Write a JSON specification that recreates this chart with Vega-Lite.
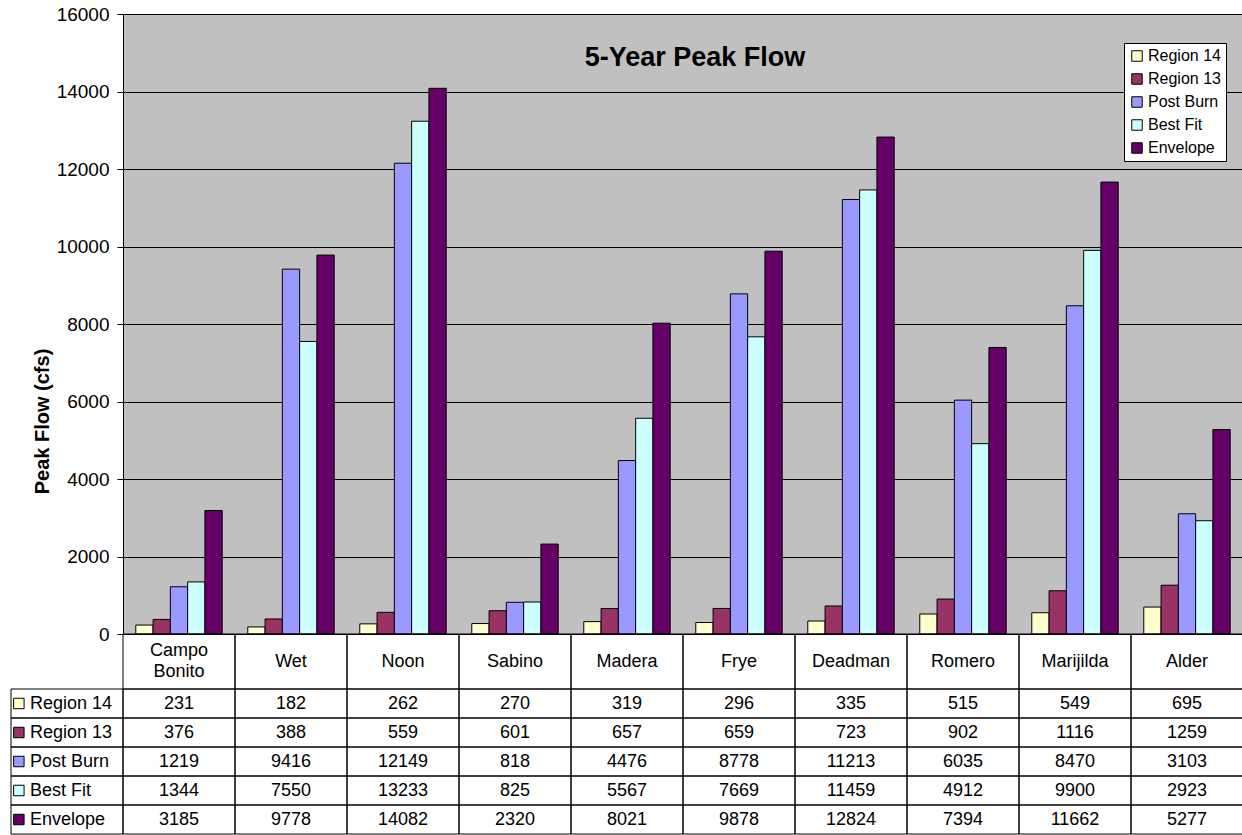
{
  "$schema": "https://vega.github.io/schema/vega-lite/v6.json",
  "background": "white",
  "padding": {"left": 10, "top": 5, "right": 0, "bottom": 0},
  "spacing": 0,
  "bounds": "flush",
  "config": {
    "font": "Liberation Sans",
    "view": {"stroke": null},
    "axis": {"labelFont": "Liberation Sans", "titleFont": "Liberation Sans"},
    "legend": {"labelFont": "Liberation Sans"},
    "title": {"font": "Liberation Sans"}
  },
  "datasets": {
    "sites": [
      {"site": "Campo Bonito"}, {"site": "Wet"}, {"site": "Noon"}, {"site": "Sabino"}, {"site": "Madera"},
      {"site": "Frye"}, {"site": "Deadman"}, {"site": "Romero"}, {"site": "Marijilda"}, {"site": "Alder"}
    ],
    "series": [
      {"series": "Region 14"}, {"series": "Region 13"}, {"series": "Post Burn"}, {"series": "Best Fit"}, {"series": "Envelope"}
    ],
    "flow": [
      {"site": "Campo Bonito", "series": "Region 14", "cfs": 231},
      {"site": "Wet", "series": "Region 14", "cfs": 182},
      {"site": "Noon", "series": "Region 14", "cfs": 262},
      {"site": "Sabino", "series": "Region 14", "cfs": 270},
      {"site": "Madera", "series": "Region 14", "cfs": 319},
      {"site": "Frye", "series": "Region 14", "cfs": 296},
      {"site": "Deadman", "series": "Region 14", "cfs": 335},
      {"site": "Romero", "series": "Region 14", "cfs": 515},
      {"site": "Marijilda", "series": "Region 14", "cfs": 549},
      {"site": "Alder", "series": "Region 14", "cfs": 695},
      {"site": "Campo Bonito", "series": "Region 13", "cfs": 376},
      {"site": "Wet", "series": "Region 13", "cfs": 388},
      {"site": "Noon", "series": "Region 13", "cfs": 559},
      {"site": "Sabino", "series": "Region 13", "cfs": 601},
      {"site": "Madera", "series": "Region 13", "cfs": 657},
      {"site": "Frye", "series": "Region 13", "cfs": 659},
      {"site": "Deadman", "series": "Region 13", "cfs": 723},
      {"site": "Romero", "series": "Region 13", "cfs": 902},
      {"site": "Marijilda", "series": "Region 13", "cfs": 1116},
      {"site": "Alder", "series": "Region 13", "cfs": 1259},
      {"site": "Campo Bonito", "series": "Post Burn", "cfs": 1219},
      {"site": "Wet", "series": "Post Burn", "cfs": 9416},
      {"site": "Noon", "series": "Post Burn", "cfs": 12149},
      {"site": "Sabino", "series": "Post Burn", "cfs": 818},
      {"site": "Madera", "series": "Post Burn", "cfs": 4476},
      {"site": "Frye", "series": "Post Burn", "cfs": 8778},
      {"site": "Deadman", "series": "Post Burn", "cfs": 11213},
      {"site": "Romero", "series": "Post Burn", "cfs": 6035},
      {"site": "Marijilda", "series": "Post Burn", "cfs": 8470},
      {"site": "Alder", "series": "Post Burn", "cfs": 3103},
      {"site": "Campo Bonito", "series": "Best Fit", "cfs": 1344},
      {"site": "Wet", "series": "Best Fit", "cfs": 7550},
      {"site": "Noon", "series": "Best Fit", "cfs": 13233},
      {"site": "Sabino", "series": "Best Fit", "cfs": 825},
      {"site": "Madera", "series": "Best Fit", "cfs": 5567},
      {"site": "Frye", "series": "Best Fit", "cfs": 7669},
      {"site": "Deadman", "series": "Best Fit", "cfs": 11459},
      {"site": "Romero", "series": "Best Fit", "cfs": 4912},
      {"site": "Marijilda", "series": "Best Fit", "cfs": 9900},
      {"site": "Alder", "series": "Best Fit", "cfs": 2923},
      {"site": "Campo Bonito", "series": "Envelope", "cfs": 3185},
      {"site": "Wet", "series": "Envelope", "cfs": 9778},
      {"site": "Noon", "series": "Envelope", "cfs": 14082},
      {"site": "Sabino", "series": "Envelope", "cfs": 2320},
      {"site": "Madera", "series": "Envelope", "cfs": 8021},
      {"site": "Frye", "series": "Envelope", "cfs": 9878},
      {"site": "Deadman", "series": "Envelope", "cfs": 12824},
      {"site": "Romero", "series": "Envelope", "cfs": 7394},
      {"site": "Marijilda", "series": "Envelope", "cfs": 11662},
      {"site": "Alder", "series": "Envelope", "cfs": 5277}
    ]
  },
  "resolve": {"scale": {"x": "independent", "y": "independent", "fill": "independent"}, "legend": {"fill": "independent"}},
  "vconcat": [
    {
      "width": 1120,
      "height": 620,
      "view": {"fill": "#C0C0C0", "stroke": null},
      "title": {"text": "5-Year Peak Flow", "fontSize": 27, "fontWeight": "bold", "color": "black", "anchor": "middle", "frame": "group", "dx": 12, "offset": -88, "baseline": "alphabetic"},
      "data": {"name": "flow"},
      "mark": {"type": "bar", "stroke": "black", "strokeWidth": 1},
      "encoding": {
        "x": {"field": "site", "type": "nominal", "sort": ["Campo Bonito", "Wet", "Noon", "Sabino", "Madera", "Frye", "Deadman", "Romero", "Marijilda", "Alder"], "scale": {"paddingInner": 0, "paddingOuter": 0}, "axis": null},
        "xOffset": {"field": "series", "type": "nominal", "sort": ["Region 14", "Region 13", "Post Burn", "Best Fit", "Envelope"], "scale": {"paddingInner": 0, "paddingOuter": 0.74}},
        "y": {"field": "cfs", "type": "quantitative", "scale": {"domain": [0, 16000], "nice": false},
          "axis": {"title": "Peak Flow (cfs)", "titleFontSize": 20, "titleFontWeight": "bold", "titleColor": "black", "titleX": -81, "titleY": 407, "titleAngle": -90, "titleAlign": "center", "titleBaseline": "middle",
            "values": [0, 2000, 4000, 6000, 8000, 10000, 12000, 14000, 16000], "format": "d", "labelFontSize": 19, "labelColor": "black", "tickColor": "black", "tickSize": 6, "labelPadding": 8, "domainColor": "black", "grid": true, "gridColor": "black", "gridWidth": 1, "gridOpacity": 1}},
        "fill": {"field": "series", "type": "nominal",
          "scale": {"domain": ["Region 14", "Region 13", "Post Burn", "Best Fit", "Envelope"], "range": ["#FFFFCC", "#993366", "#9999FF", "#CCFFFF", "#660066"]},
          "legend": {"orient": "none", "legendX": 1001, "legendY": 29, "title": null, "fillColor": "white", "strokeColor": "black", "padding": 5, "symbolType": "square", "symbolSize": 110, "symbolStrokeColor": "black", "symbolStrokeWidth": 1, "symbolOpacity": 1, "labelFontSize": 16, "labelColor": "black", "rowPadding": 7, "labelOffset": 3,
            "encode": {"symbols": {"update": {"stroke": {"value": "black"}, "strokeWidth": {"value": 1}}}}}}
      }
    },
    {
      "width": 1120,
      "height": 55,
      "data": {"name": "sites"},
      "encoding": {
        "x": {"field": "site", "type": "nominal", "scale": {"domain": ["Campo Bonito", "Wet", "Noon", "Sabino", "Madera", "Frye", "Deadman", "Romero", "Marijilda", "Alder"], "paddingInner": 0, "paddingOuter": 0}, "axis": null}
      },
      "layer": [
        {"mark": {"type": "rect", "fill": "transparent", "stroke": "black", "strokeWidth": 1}},
        {"transform": [{"filter": "indexof(datum.site, ' ') < 0"}],
          "mark": {"type": "text", "fontSize": 18, "baseline": "middle", "color": "black"}, "encoding": {"text": {"field": "site"}}},
        {"transform": [{"filter": "indexof(datum.site, ' ') >= 0"}],
          "mark": {"type": "text", "fontSize": 18, "lineBreak": " ", "baseline": "middle", "color": "black", "lineHeight": 21, "dy": -11}, "encoding": {"text": {"field": "site"}}}
      ]
    },
    {
      "width": 1120,
      "height": 145,
      "layer": [
        {
          "data": {"name": "flow"},
          "mark": {"type": "rect", "fill": "transparent", "stroke": "black", "strokeWidth": 1},
          "encoding": {
            "x": {"field": "site", "type": "nominal", "scale": {"domain": ["__legend", "Campo Bonito", "Wet", "Noon", "Sabino", "Madera", "Frye", "Deadman", "Romero", "Marijilda", "Alder"], "range": [-112, 1120], "paddingInner": 0, "paddingOuter": 0}, "axis": null},
            "y": {"field": "series", "type": "nominal", "scale": {"domain": ["Region 14", "Region 13", "Post Burn", "Best Fit", "Envelope"], "paddingInner": 0, "paddingOuter": 0}, "axis": null}
          }
        },
        {
          "data": {"name": "flow"},
          "mark": {"type": "text", "fontSize": 18, "color": "black"},
          "encoding": {
            "x": {"field": "site", "type": "nominal"},
            "y": {"field": "series", "type": "nominal"},
            "text": {"field": "cfs", "type": "quantitative", "format": "d"}
          }
        },
        {
          "data": {"name": "series"},
          "mark": {"type": "rect", "fill": "transparent", "stroke": "black", "strokeWidth": 1},
          "encoding": {
            "x": {"datum": "__legend", "type": "nominal"},
            "y": {"field": "series", "type": "nominal"}
          }
        },
        {
          "data": {"name": "series"},
          "mark": {"type": "point", "shape": "square", "filled": true, "size": 110, "stroke": "black", "strokeWidth": 1, "opacity": 1},
          "encoding": {
            "x": {"datum": "__legend", "type": "nominal", "bandPosition": 0.07},
            "y": {"field": "series", "type": "nominal"},
            "fill": {"field": "series", "type": "nominal", "scale": {"domain": ["Region 14", "Region 13", "Post Burn", "Best Fit", "Envelope"], "range": ["#FFFFCC", "#993366", "#9999FF", "#CCFFFF", "#660066"]}, "legend": null}
          }
        },
        {
          "data": {"name": "series"},
          "mark": {"type": "text", "align": "left", "fontSize": 18, "color": "black"},
          "encoding": {
            "x": {"datum": "__legend", "type": "nominal", "bandPosition": 0.17},
            "y": {"field": "series", "type": "nominal"},
            "text": {"field": "series"}
          }
        }
      ]
    }
  ]
}
